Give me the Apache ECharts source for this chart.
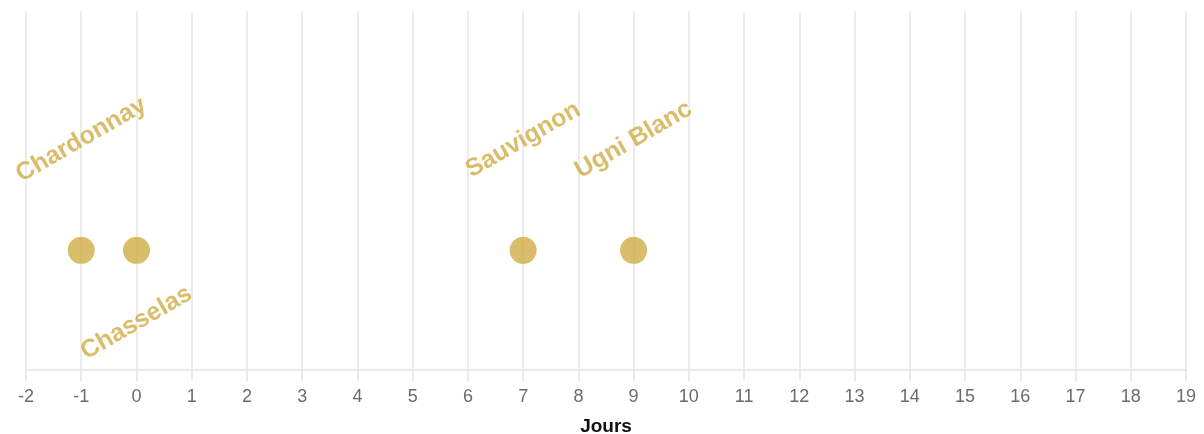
<!DOCTYPE html>
<html>
<head>
<meta charset="utf-8">
<script src="https://cdn.jsdelivr.net/npm/echarts@6/dist/echarts.min.js"></script>
<style>
  html, body { margin: 0; padding: 0; background: #ffffff; }
  #chart { width: 1204px; height: 434px; }
</style>
</head>
<body>
<div id="chart"></div>
<script>
// Grape varieties and their day offsets
const varieties = ['Chardonnay', 'Chasselas', 'Sauvignon', 'Ugni Blanc'];
const days = [-1, 0, 7, 9];
// Axis range (days)
const dayMin = -2;
const dayMax = 19;
const axisTitle = 'Jours';

const gold = '#d1ad45';
const font = '"Liberation Sans", Arial, Helvetica, sans-serif';

// Labels go above the dot, except where they would collide with a neighbour
const placedBelow = new Set(['Chasselas']);

const data = varieties.map((name, i) => {
  const below = placedBelow.has(name);
  return {
    name: name,
    value: [days[i], 0],
    label: {
      position: below ? ['50%', 86] : ['50%', -97],
    }
  };
});

const chart = echarts.init(document.getElementById('chart'), null, { renderer: 'canvas' });
chart.setOption({
  animation: false,
  grid: { left: 26, right: 18, top: 11, bottom: 64, outerBoundsMode: 'none', containLabel: false },
  xAxis: {
    type: 'value',
    min: dayMin,
    max: dayMax,
    interval: 1,
    name: axisTitle,
    nameLocation: 'middle',
    nameGap: 47,
    nameTextStyle: { color: '#111', fontWeight: 'bold', fontSize: 19, fontFamily: font },
    axisLine: { show: true, onZero: false, lineStyle: { color: '#e3e3e3', width: 1.5 } },
    axisTick: { show: true, length: 11, lineStyle: { color: '#e3e3e3', width: 1.5 } },
    axisLabel: { color: '#6b6b6b', fontSize: 18, margin: 18, fontFamily: font },
    splitLine: { show: true, lineStyle: { color: '#e6e6e6', width: 1.5 } }
  },
  yAxis: {
    type: 'value',
    min: -1,
    max: 2,
    show: false,
    splitLine: { show: false }
  },
  series: [{
    type: 'scatter',
    symbol: 'circle',
    symbolSize: 27,
    itemStyle: { color: gold },
    data: data,
    label: {
      show: true,
      formatter: '{b}',
      rotate: 30,
      align: 'center',
      verticalAlign: 'middle',
      color: gold,
      fontSize: 25,
      fontWeight: 'bold',
      fontFamily: font
    }
  }]
});
</script>
</body>
</html>
